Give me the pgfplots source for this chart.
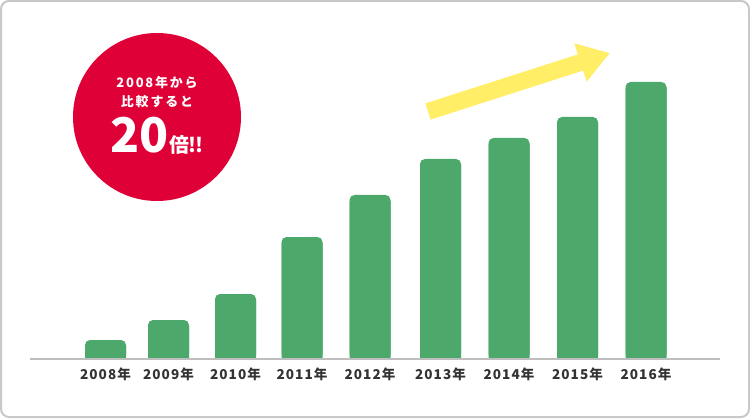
\documentclass[border=0pt]{standalone}
\usepackage{fontspec}
\setmainfont{Noto Sans CJK JP}
\newfontfamily\jpsp{Noto Sans CJK JP}[LetterSpace=8]
\newfontfamily\jpwide{Noto Sans CJK JP}[LetterSpace=14]
\usepackage{pgfplots}
\usepackage{pgfplotstable}
\pgfplotsset{compat=1.18}
\usetikzlibrary{arrows.meta}

\definecolor{barg}{RGB}{76,168,107}
\definecolor{redc}{RGB}{222,0,54}
\definecolor{yel}{RGB}{255,238,102}
\definecolor{lab}{RGB}{51,51,51}
\definecolor{bordc}{RGB}{200,200,200}
\definecolor{basec}{RGB}{190,190,190}

% bar centre (px) and height above the baseline (px)
\pgfplotstableread{
x h
105.5 19
168.5 39
235.5 65
302 122
370 164
440.5 200
509 221
577.5 242
646 277
}\bars

\begin{document}
\begin{tikzpicture}
\begin{axis}[
  scale only axis, width=750bp, height=359bp,
  xmin=0, xmax=750, ymin=0, ymax=359,
  enlargelimits=false, clip=false,
  axis line style={draw=none}, tick style={draw=none},
  ytick=\empty,
  xtick={105.5,168.5,235.5,302,370,440.5,509,577.5,646},
  xticklabels={2008年,2009年,2010年,2011年,2012年,2013年,2014年,2015年,2016年},
  xticklabel style={font=\jpsp\bfseries\fontsize{13.6}{13.6}\selectfont, text=lab, anchor=center, yshift=-15bp},
]
% outer frame
\draw[bordc, line width=2bp, rounded corners=8bp] (axis cs:1,-58) rectangle (axis cs:749,358);

\addplot[ybar, bar width=41, bar shift=0pt, fill=barg, draw=none, rounded corners=5bp] table[x=x, y=h] {\bars};
\addplot[ybar, bar width=41, bar shift=0pt, fill=barg, draw=none] table[x=x, y expr=\thisrow{h}-6] {\bars};

\draw[basec, line width=1.5bp] (axis cs:30,0) -- (axis cs:720,0);

% arrow
\draw[yel, line width=17bp, -{Triangle[length=31bp, width=38bp]}] (axis cs:428,247.5) -- (axis cs:610,306);

% badge
\fill[redc] (axis cs:157,242) circle[radius=84bp];
\node[white, font=\jpwide\bfseries\fontsize{13}{13}\selectfont] at (axis cs:157,276) {2008年から};
\node[white, font=\jpwide\bfseries\fontsize{13}{13}\selectfont] at (axis cs:157,257) {比較すると};
\node[white, anchor=base, inner sep=0pt] at (axis cs:157,206) {\bfseries\fontsize{48}{48}\selectfont 20\fontsize{20}{20}\selectfont 倍!\kern-1.5bp!};
\end{axis}
\end{tikzpicture}
\end{document}
